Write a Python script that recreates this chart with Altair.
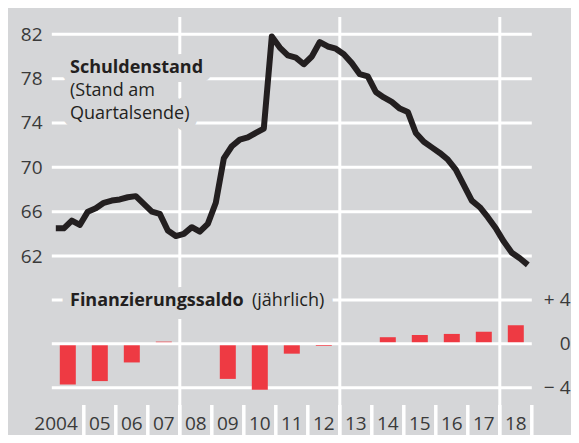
import altair as alt
import pandas as pd

# ---------------- data ----------------
years = list(range(2004, 2019))
year_labels = ["2004", "05", "06", "07", "08", "09", "10", "11", "12", "13",
               "14", "15", "16", "17", "18"]
# Schuldenstand, quarterly 2004Q1 .. 2018Q4 (% of GDP)
debt = [64.5, 64.5, 65.2, 64.8, 66.0, 66.3, 66.8, 67.0, 67.1, 67.3,
        67.4, 66.7, 66.0, 65.8, 64.3, 63.8, 64.0, 64.6, 64.2, 64.9,
        66.8, 70.8, 71.9, 72.5, 72.7, 73.1, 73.5, 81.8, 80.8, 80.1,
        79.9, 79.3, 80.0, 81.3, 80.9, 80.7, 80.2, 79.4, 78.4, 78.2,
        76.8, 76.3, 75.9, 75.3, 75.0, 73.1, 72.3, 71.8, 71.3, 70.7,
        69.8, 68.4, 67.0, 66.4, 65.5, 64.5, 63.3, 62.3, 61.8, 61.2]
# Finanzierungssaldo, annual 2004 .. 2018 (% of GDP)
balance = [-3.7, -3.4, -1.7, 0.2, 0.0, -3.2, -4.2, -0.9, -0.2, 0.0,
           0.6, 0.8, 0.9, 1.1, 1.7]
top_ticks = [62, 66, 70, 74, 78, 82]
bottom_ticks = [-4, 0, 4]
vgrid_years = [2008, 2013, 2018]
boundaries = list(range(2005, 2020))

# ---------------- style ----------------
BG = "#d5d6d8"
GRID = "#ffffff"
INK = "#231f20"
LABEL = "#3a3a3a"
RED = "#ee3a43"
FONT = "Open Sans"
W, H = 563, 427

xscale = alt.Scale(domain=[2002.631, 2020.225], nice=False, zero=False)
ytop = alt.Scale(domain=[45.852, 84.373], nice=False, zero=False)
ybot = alt.Scale(domain=[-8.314, 30.611], nice=False, zero=False)

debt_df = pd.DataFrame({"q": list(range(len(debt))), "v": debt})
bal_df = pd.DataFrame({"year": years, "v": balance})
lab_df = pd.DataFrame({"year": years, "lab": year_labels})

X_NONE = dict(axis=None, scale=xscale)

# horizontal grid, top panel (with left axis labels)
hgrid_top = alt.Chart(pd.DataFrame({"v": top_ticks})).transform_calculate(
    x0="2004", x1="2019"
).mark_rule(color=GRID, strokeWidth=3).encode(
    x=alt.X("x0:Q", **X_NONE),
    x2="x1:Q",
    y=alt.Y("v:Q", scale=ytop, axis=alt.Axis(
        orient="left", values=top_ticks, offset=-34, labelPadding=0,
        domain=False, ticks=False, grid=False, title=None,
        labelFont=FONT, labelFontSize=19, labelColor=LABEL,
        labelAlign="right", labelBaseline="middle")),
)

# horizontal grid, bottom panel: outer lines (under the bars, with right axis labels)
hgrid_bot = alt.Chart(pd.DataFrame({"v": bottom_ticks})).transform_filter(
    "datum.v != 0"
).transform_calculate(
    x0="2004", x1="2019"
).mark_rule(color=GRID, strokeWidth=3).encode(
    x=alt.X("x0:Q", **X_NONE),
    x2="x1:Q",
    y=alt.Y("v:Q", scale=ybot, axis=alt.Axis(
        orient="right", values=bottom_ticks, offset=0, labelPadding=-1,
        domain=False, ticks=False, grid=False, title=None,
        labelFont=FONT, labelFontSize=19, labelColor=LABEL,
        labelAlign="right", labelBaseline="middle",
        labelExpr="datum.value > 0 ? '+ ' + datum.value : (datum.value < 0 ? '\u2212 ' + (-datum.value) : '0')")),
)

# bars
bars = alt.Chart(bal_df).transform_calculate(
    x0="datum.year + 0.25", x1="datum.year + 0.75"
).mark_bar(color=RED).encode(
    x=alt.X("x0:Q", **X_NONE),
    x2="x1:Q",
    y=alt.Y("v:Q", scale=ybot, axis=None),
    y2=alt.datum(0),
)

# zero line drawn over the bars
zero_line = alt.Chart(pd.DataFrame({"v": bottom_ticks})).transform_filter(
    "datum.v == 0"
).transform_calculate(
    x0="2004", x1="2019"
).mark_rule(color=GRID, strokeWidth=3).encode(
    x=alt.X("x0:Q", **X_NONE),
    x2="x1:Q",
    y=alt.Y("v:Q", scale=ybot, axis=None),
)

# vertical grid lines
vgrid = alt.Chart(pd.DataFrame({"x": vgrid_years})).mark_rule(
    color=GRID, strokeWidth=3
).encode(x=alt.X("x:Q", **X_NONE), y=alt.value(9), y2=alt.value(H))

# year separators on the time axis
seps = alt.Chart(pd.DataFrame({"x": boundaries})).mark_rule(
    color=GRID, strokeWidth=3.5
).encode(x=alt.X("x:Q", **X_NONE), y=alt.value(397), y2=alt.value(H))


def label(text, px, py, bold=False, halo=False, size=18):
    kw = dict(align="left", baseline="alphabetic", font=FONT, fontSize=size,
              fontWeight="bold" if bold else "normal")
    if halo:
        kw.update(color=BG, stroke=BG, strokeWidth=18, strokeJoin="round")
    else:
        kw.update(color=INK)
    return alt.Chart(pd.DataFrame({"t": [text]})).mark_text(**kw).encode(
        x=alt.value(px), y=alt.value(py), text="t:N")


texts = [
    ("Schuldenstand", 62, 65, True),
    ("(Stand am", 62, 88, False),
    ("Quartalsende)", 62, 111, False),
    ("Finanzierungssaldo", 62, 298, True),
    ("(jährlich)", 244, 298, False),
]
halos = [label(t, x, y, b, halo=True) for t, x, y, b in texts]
labels = [label(t, x, y, b) for t, x, y, b in texts]

# year labels
year_lab = alt.Chart(lab_df).transform_filter("datum.year > 2004").transform_calculate(
    xc="datum.year + 0.5"
).mark_text(align="center", baseline="alphabetic", font=FONT, fontSize=19,
            color=LABEL).encode(x=alt.X("xc:Q", **X_NONE), y=alt.value(422), text="lab:N")
year_first = alt.Chart(lab_df).transform_filter("datum.year == 2004").transform_calculate(
    xc="datum.year + 1"
).mark_text(align="right", baseline="alphabetic", font=FONT, fontSize=19, dx=-6,
            color=LABEL).encode(x=alt.X("xc:Q", **X_NONE), y=alt.value(422), text="lab:N")

# debt line
line = alt.Chart(debt_df).transform_calculate(
    t="2004 + (datum.q + 0.5) / 4"
).mark_line(color=INK, strokeWidth=6, strokeJoin="round", strokeCap="butt").encode(
    x=alt.X("t:Q", **X_NONE),
    y=alt.Y("v:Q", scale=ytop, axis=None),
)

chart = alt.layer(
    hgrid_bot, bars, zero_line, hgrid_top, vgrid, seps, *halos, *labels,
    year_lab, year_first, line
).resolve_scale(y="independent").properties(
    width=W, height=H, autosize=alt.AutoSizeParams(type="none"), padding=0,
    background=BG
).configure_view(strokeWidth=0)

chart.save("out.html", embed_options={"renderer": "svg", "actions": False})
